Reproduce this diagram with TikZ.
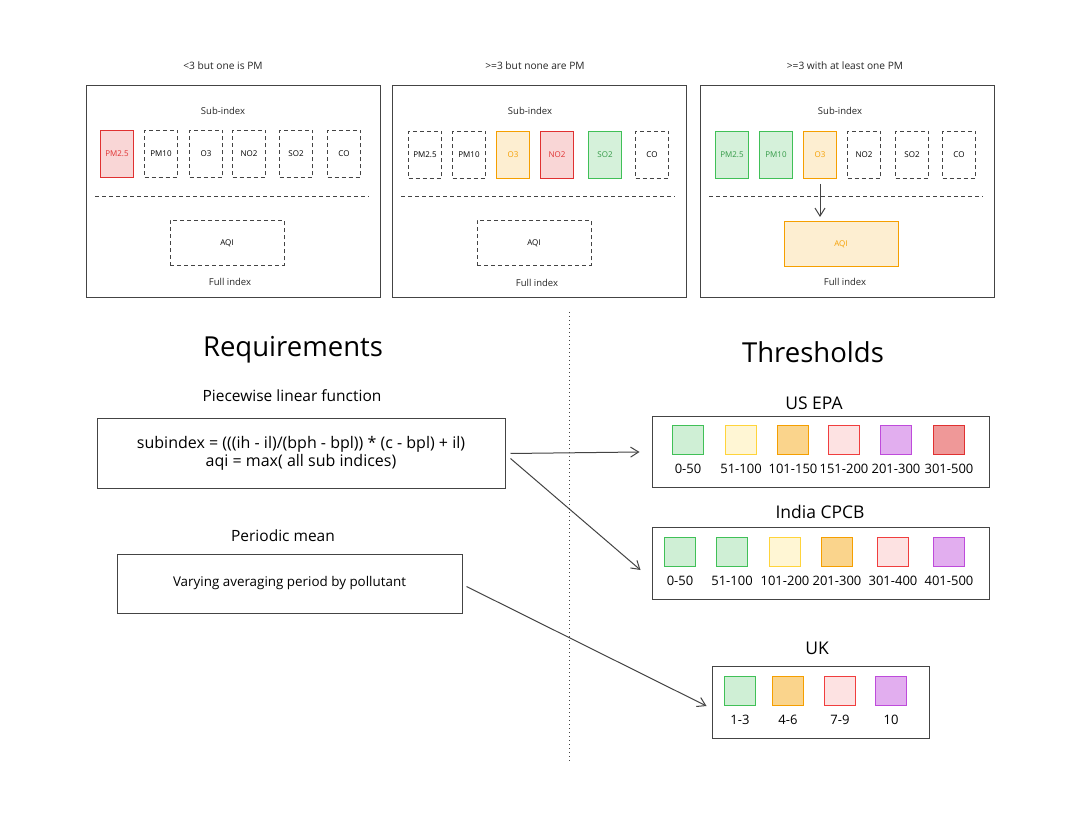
\documentclass[tikz,border=0pt]{standalone}
\usepackage{fontspec}
\setmainfont{Open Sans}
\usepackage{tikz}
\usetikzlibrary{arrows.meta}
\tikzset{>={Straight Barb[length=8pt,width=10pt]}}
\definecolor{box grey}{HTML}{444444}
\definecolor{hit red}{HTML}{E03131}
\definecolor{hit green}{HTML}{40C057}
\definecolor{hit orange}{HTML}{F59F00}
\definecolor{good green}{HTML}{40C057}
\definecolor{fair yellow}{HTML}{FFD43B}
\definecolor{poor orange}{HTML}{F59F00}
\definecolor{bad red}{HTML}{F03E3E}
\definecolor{severe purple}{HTML}{BE4BDB}
\definecolor{hazard red}{HTML}{E03131}
\tikzset{
    slot/.style={draw=box grey, line width=1pt, dash pattern=on 4pt off 3pt, minimum width=33pt, minimum height=47pt, inner sep=0pt, font=\fontsize{8}{9}\selectfont},
    empty slot/.style={},
    red slot/.style={solid, draw=hit red, fill=hit red!20, text=hit red},
    green slot/.style={solid, draw=hit green, fill=hit green!22, text=hit green!80!black},
    orange slot/.style={solid, draw=hit orange, fill=hit orange!18, text=hit orange},
    small text/.style={font=\fontsize{9.5}{11}\selectfont, text=black!85},
    title text/.style={font=\fontsize{10.2}{12}\selectfont, text=black!85},
    heading/.style={font=\fontsize{27.5}{32}\selectfont},
    section text/.style={font=\fontsize{15.5}{18}\selectfont},
    req box/.style={draw=box grey, line width=1pt, align=center},
    thr title/.style={font=\fontsize{17.5}{20}\selectfont},
    thr box/.style={draw=box grey, line width=1pt, minimum width=337pt},
    swatch/.style={line width=1pt, minimum width=31pt, minimum height=29pt, inner sep=0pt},
    range text/.style={font=\fontsize{13}{15}\selectfont},
    link/.style={->, line width=1pt, draw=box grey}
}

\begin{document}
\begin{tikzpicture}[x=1pt, y=-1pt]
            \fill[white] (0, 0) rectangle (1080, 818);
            \foreach \px in {86, 392, 700} {
                \draw[box grey, line width=1pt] (\px, 86) rectangle ++(294, 212);
                \draw[box grey, line width=1pt, dash pattern=on 4pt off 3pt] (\px + 9, 197) -- ++(274, 0);
            }

            \node[title text] (one-title) at (223, 66) {<3 but one is PM};
            \node[small text] (one-sub) at (223, 111) {Sub-index};
            \foreach \lbl/\x/\st [count=\i] in {PM2.5/117/red slot, PM10/161/empty slot, O3/206/empty slot, NO2/249/empty slot, SO2/296/empty slot, CO/344/empty slot} {
                \node[slot, \st] (one-\i) at (\x, 154) {\lbl};
            }
            \node[slot, minimum width=114pt, minimum height=45pt] (one-aqi) at (227, 243) {AQI};
            \node[small text] (one-full) at (230, 282) {Full index};

            \node[title text] (two-title) at (535, 66) {>=3 but none are PM};
            \node[small text] (two-sub) at (530, 111) {Sub-index};
            \foreach \lbl/\x/\st [count=\i] in {PM2.5/425/empty slot, PM10/469/empty slot, O3/513/orange slot, NO2/557/red slot, SO2/605/green slot, CO/652/empty slot} {
                \node[slot, \st] (two-\i) at (\x, 155) {\lbl};
            }
            \node[slot, minimum width=114pt, minimum height=45pt] (two-aqi) at (534, 243) {AQI};
            \node[small text] (two-full) at (537, 283) {Full index};

            \node[title text] (three-title) at (845, 66) {>=3 with at least one PM};
            \node[small text] (three-sub) at (840, 111) {Sub-index};
            \foreach \lbl/\x/\st [count=\i] in {PM2.5/732/green slot, PM10/776/green slot, O3/820/orange slot, NO2/864/empty slot, SO2/912/empty slot, CO/959/empty slot} {
                \node[slot, \st] (three-\i) at (\x, 155) {\lbl};
            }
            \node[slot, orange slot, minimum width=114pt, minimum height=45pt] (three-aqi) at (841, 244) {AQI};
            \node[small text] (three-full) at (845, 282) {Full index};
            \draw[link, shorten <=5pt, shorten >=4pt] (three-3.south) -- (three-3.south |- three-aqi.north);

            \draw[box grey, line width=1pt, dash pattern=on 1pt off 3pt] (569, 312) -- (569, 762);

            \node[heading] (req) at (293, 350) {Requirements};
            \node[heading] (thr) at (813, 352) {Thresholds};

            \node[section text] (piecewise) at (292, 396) {Piecewise linear function};
            \node[req box, minimum width=408pt, minimum height=69pt, font=\fontsize{16}{18}\selectfont] (formula) at (301, 453.5) {subindex = (((ih - il)/(bph - bpl)) * (c - bpl) + il)\\aqi = max( all sub indices)};
            \node[section text] (mean) at (283, 536) {Periodic mean};
            \node[req box, minimum width=345pt, minimum height=59pt, font=\fontsize{13.4}{15}\selectfont] (periodic) at (289.5, 583.5) {Varying averaging period by pollutant};

            \node[thr title] (epa-title) at (814, 403) {US EPA};
            \node[thr box, minimum height=70pt] (epa) at (820.5, 452) {};
            \foreach \x/\clr/\pct/\rng [count=\i] in {688/good green/25/0-50, 741/fair yellow/22/51-100, 793/poor orange/45/101-150, 844/bad red/15/151-200, 896/severe purple/45/201-300, 949/hazard red/50/301-500} {
                \node[swatch, draw=\clr, fill=\clr!\pct] (epa-\i) at (\x, 440.5) {};
                \node[range text] (epa-r\i) at (\x, 469) {\rng};
            }

            \node[thr title] (cpcb-title) at (820, 512) {India CPCB};
            \node[thr box, minimum height=72pt] (cpcb) at (820.5, 563) {};
            \foreach \x/\clr/\pct/\rng [count=\i] in {680/good green/25/0-50, 732/good green/25/51-100, 785/fair yellow/22/101-200, 837/poor orange/45/201-300, 893/bad red/15/301-400, 949/severe purple/45/401-500} {
                \node[swatch, draw=\clr, fill=\clr!\pct] (cpcb-\i) at (\x, 551.5) {};
                \node[range text] (cpcb-r\i) at (\x, 581) {\rng};
            }

            \node[thr title] (uk-title) at (817, 648) {UK};
            \node[thr box, minimum width=217pt, minimum height=72pt] (uk) at (820.5, 702) {};
            \foreach \x/\clr/\pct/\rng [count=\i] in {740/good green/25/1-3, 788/poor orange/45/4-6, 840/bad red/15/7-9, 891/severe purple/45/10} {
                \node[swatch, draw=\clr, fill=\clr!\pct] (uk-\i) at (\x, 691) {};
                \node[range text] (uk-r\i) at (\x, 720) {\rng};
            }

            \draw[link] ([xshift=5pt]formula.east) -- ([xshift=-12pt]epa.west);
            \draw[link] ([xshift=5pt, yshift=-5pt]formula.east) -- ([xshift=-11pt, yshift=-7pt]cpcb.west);
            \draw[link] ([xshift=4pt, yshift=-3pt]periodic.east) -- ([xshift=-5pt, yshift=-4pt]uk.west);
        \end{tikzpicture}
\end{document}
